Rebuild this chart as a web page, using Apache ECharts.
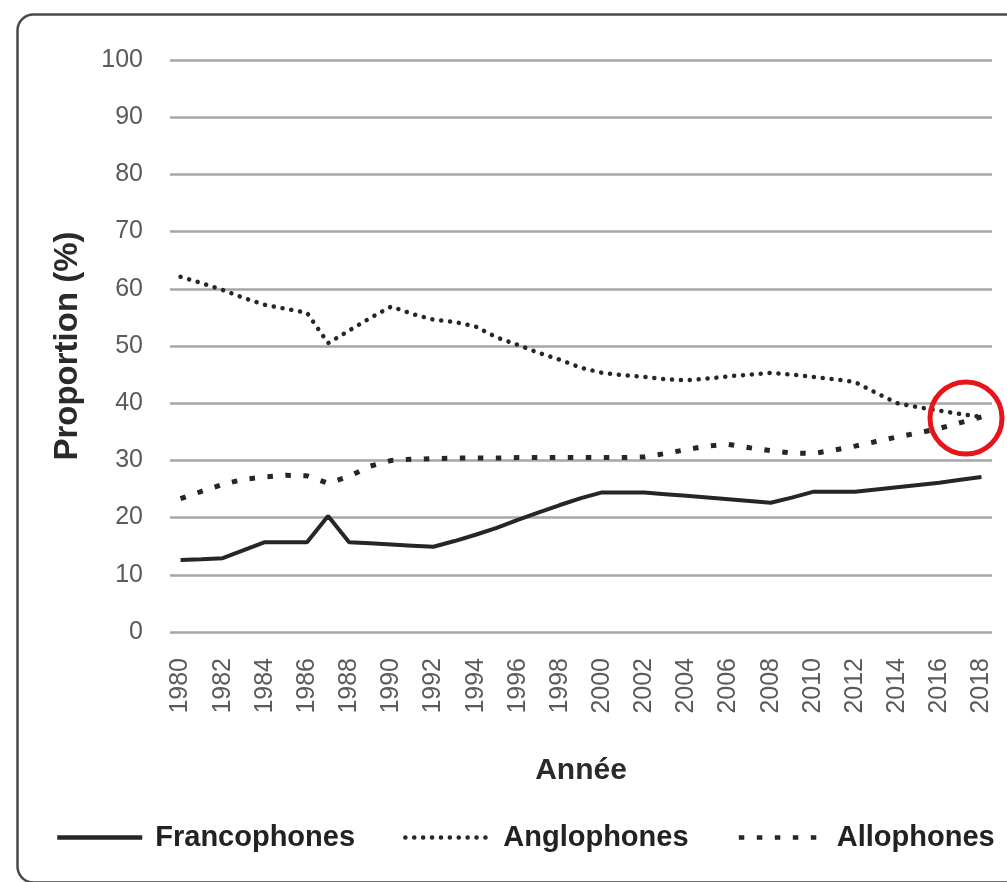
<!DOCTYPE html>
<html>
<head>
<meta charset="utf-8">
<script src="https://cdn.jsdelivr.net/npm/echarts@6/dist/echarts.min.js"></script>
<style>
html,body{margin:0;padding:0;background:#fff;}
#chart{width:1007px;height:882px;}
</style>
</head>
<body>
<div id="chart"></div>
<script>
const years = [];
for (let y = 1980; y <= 2018; y++) years.push(String(y));

const francophones = [12.6,12.7,12.9,14.3,15.7,15.7,15.7,20.3,15.7,15.5,15.3,15.1,14.9,15.9,17.0,18.2,19.6,20.9,22.2,23.4,24.4,24.4,24.4,24.1,23.8,23.5,23.2,22.9,22.6,23.5,24.5,24.5,24.5,24.9,25.3,25.7,26.1,26.6,27.1];
const anglophones = [62.1,61.0,59.8,58.4,57.2,56.5,55.8,50.5,52.7,54.9,56.9,55.6,54.6,54.2,53.4,51.5,50.2,48.8,47.6,46.2,45.3,44.9,44.6,44.2,44.0,44.3,44.7,45.0,45.3,45.0,44.6,44.2,43.7,41.8,40.0,39.3,38.7,38.1,37.6];
const allophones = [23.3,24.6,25.8,26.7,27.1,27.4,27.3,26.0,27.2,29.0,30.0,30.2,30.3,30.4,30.4,30.4,30.5,30.5,30.5,30.5,30.5,30.5,30.6,31.2,31.9,32.5,32.8,32.2,31.7,31.3,31.2,31.8,32.5,33.3,34.1,34.8,35.6,36.6,37.6];
const seriesNames = ['Francophones','Anglophones','Allophones'];

const chart = echarts.init(document.getElementById('chart'), null, {renderer:'canvas'});
const lineColor = '#262626';
chart.setOption({
  animation:false,
  backgroundColor:'#fff',
  grid:{left:170, right:15, top:60, bottom:250, containLabel:false},
  legend:{
    data:seriesNames,
    left:50, top:818,
    itemWidth:85, itemHeight:20, itemGap:48,
    itemStyle:{opacity:0},
    lineStyle:{width:4.5},
    textStyle:{fontFamily:'Liberation Sans', fontWeight:'bold', fontSize:29, color:'#222', padding:[0,0,0,8]}
  },
  xAxis:{
    type:'category', data:years, boundaryGap:true,
    axisLine:{show:false}, axisTick:{show:false},
    axisLabel:{interval:1, rotate:90, margin:26, fontFamily:'Liberation Sans', fontSize:25, color:'#5a5a5a'},
    name:'Année', nameLocation:'middle', nameGap:124,
    nameTextStyle:{fontFamily:'Liberation Sans', fontWeight:'bold', fontSize:30, color:'#2a2a2a'}
  },
  yAxis:{
    type:'value', min:0, max:100, interval:10,
    axisLine:{show:false}, axisTick:{show:false},
    splitLine:{lineStyle:{color:'#a6a6a6', width:2.5}},
    axisLabel:{margin:27, fontFamily:'Liberation Sans', fontSize:25, color:'#5a5a5a'},
    name:'Proportion (%)', nameLocation:'middle', nameGap:86,
    nameTextStyle:{fontFamily:'Liberation Sans', fontWeight:'bold', fontSize:33, color:'#2a2a2a'}
  },
  series:[
    {name:'Francophones', type:'line', data:francophones, symbol:'none', color:lineColor,
     lineStyle:{color:lineColor, width:4, type:'solid'}},
    {name:'Anglophones', type:'line', data:anglophones, symbol:'none', color:lineColor,
     lineStyle:{color:lineColor, width:4.5, type:[0.1, 8.8], cap:'round'}},
    {name:'Allophones', type:'line', data:allophones, symbol:'none', color:lineColor,
     lineStyle:{color:lineColor, width:5, type:[5.5, 12.5], cap:'butt'}}
  ],
  graphic:[
    {type:'rect', left:15, top:12, shape:{x:0,y:0,width:1010,height:868,r:16},
     style:{fill:'none', stroke:'#4a4a4a', lineWidth:2.5}, silent:true, z:100},
    {type:'circle', shape:{cx:966, cy:418, r:36},
     style:{fill:'none', stroke:'#e8141b', lineWidth:5}, silent:true, z:100}
  ]
});
</script>
</body>
</html>
